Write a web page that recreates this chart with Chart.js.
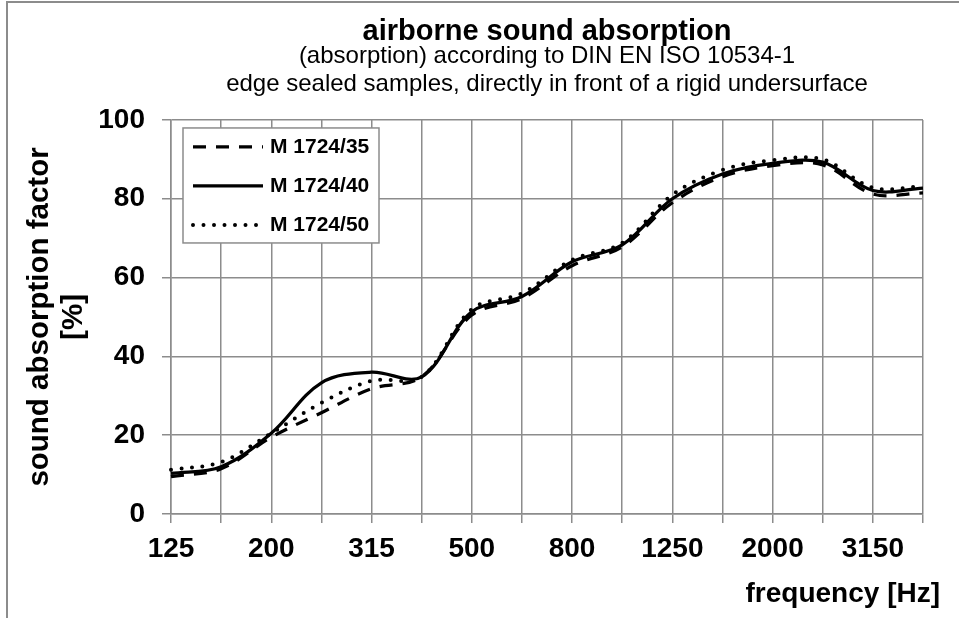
<!DOCTYPE html>
<html>
<head>
<meta charset="utf-8">
<title>airborne sound absorption</title>
<script src="https://cdn.jsdelivr.net/npm/chart.js@4/dist/chart.umd.min.js"></script>
<style>
  body { margin: 0; background: #fff; }
  canvas { display: block; }
</style>
</head>
<body>
<canvas id="absorptionChart" width="959" height="618"></canvas>
<script>
// third-octave band centre frequencies [Hz]
const frequencies = ['125', '160', '200', '250', '315', '400', '500', '630', '800', '1000', '1250', '1600', '2000', '2500', '3150', '4000'];
// sound absorption factor [%]
const m1724_35 = [9.5, 11.5, 19.5, 25.7, 31.8, 34.8, 50.5, 54.7, 63.0, 67.8, 79.0, 85.6, 88.4, 88.6, 81.2, 81.5];
const m1724_40 = [10.3, 12.0, 20.5, 33.3, 36.0, 34.8, 51.3, 55.2, 64.0, 68.3, 80.0, 86.3, 89.0, 89.3, 82.1, 82.7];
const m1724_50 = [11.2, 13.2, 20.5, 28.2, 33.8, 34.8, 52.0, 56.0, 64.5, 68.8, 81.0, 87.3, 89.8, 90.0, 82.8, 83.2];
const seriesNames = ['M 1724/35', 'M 1724/40', 'M 1724/50'];

const FONT = "'Liberation Sans', Arial, sans-serif";
const GRID = '#8c8c8c';

Chart.defaults.font.family = FONT;
Chart.defaults.color = '#000';

// frame of the original export, only left and top edges are in the picture
const framePlugin = {
    id: 'frame',
    beforeDraw(chart) {
        const ctx = chart.ctx;
        ctx.save();
        ctx.strokeStyle = GRID;
        ctx.lineWidth = 2;
        ctx.beginPath();
        ctx.moveTo(7, chart.height);
        ctx.lineTo(7, 2);
        ctx.lineTo(chart.width, 2);
        ctx.stroke();
        ctx.restore();
    }
};

// boxed legend inside the plot, with line samples
const legendBoxPlugin = {
    id: 'legendBox',
    afterDraw(chart) {
        const ctx = chart.ctx, area = chart.chartArea;
        const x = area.left + 12, y = area.top + 8, w = 196, h = 115;
        ctx.save();
        ctx.fillStyle = '#fff';
        ctx.fillRect(x, y, w, h);
        ctx.strokeStyle = GRID;
        ctx.lineWidth = 1.5;
        ctx.strokeRect(x, y, w, h);
        chart.data.datasets.forEach((ds, i) => {
            const ly = y + 19 + i * 39;
            ctx.beginPath();
            ctx.setLineDash(ds.borderDash || []);
            ctx.lineCap = ds.borderCapStyle || 'butt';
            ctx.lineWidth = ds.borderWidth;
            ctx.strokeStyle = ds.borderColor;
            ctx.moveTo(x + 10, ly);
            ctx.lineTo(x + 80, ly);
            ctx.stroke();
            ctx.setLineDash([]);
            ctx.fillStyle = '#000';
            ctx.font = 'bold 21px ' + FONT;
            ctx.textBaseline = 'middle';
            ctx.textAlign = 'left';
            ctx.fillText(ds.label, x + 87, ly);
        });
        // x axis title sits right of the plot edge
        ctx.font = 'bold 28px ' + FONT;
        ctx.textAlign = 'right';
        ctx.textBaseline = 'alphabetic';
        ctx.fillText('frequency [Hz]', area.right + 17, 602);
        ctx.restore();
    }
};

const ctx = document.getElementById('absorptionChart').getContext('2d');
new Chart(ctx, {
    type: 'line',
    data: {
        labels: frequencies,
        datasets: [{
            label: seriesNames[0],
            data: m1724_35,
            borderColor: '#000',
            borderWidth: 3.25,
            borderDash: [13, 10]
        }, {
            label: seriesNames[1],
            data: m1724_40,
            borderColor: '#000',
            borderWidth: 3.25
        }, {
            label: seriesNames[2],
            data: m1724_50,
            borderColor: '#000',
            borderWidth: 4,
            borderDash: [0, 10.5],
            borderCapStyle: 'round'
        }]
    },
    options: {
        responsive: false,
        animation: false,
        elements: {
            point: { radius: 0 },
            line: { tension: 0.35, fill: false }
        },
        layout: { padding: { left: 8, right: 36, top: 0, bottom: 0 } },
        plugins: {
            legend: { display: false },
            tooltip: { enabled: false },
            title: {
                display: true,
                fullSize: false,
                text: 'airborne sound absorption',
                font: { size: 29, weight: 'bold', lineHeight: 0.7 },
                padding: { top: 22, bottom: 0 }
            },
            subtitle: {
                display: true,
                fullSize: false,
                text: ['(absorption) according to DIN EN ISO 10534-1', 'edge sealed samples, directly in front of a rigid undersurface'],
                font: { size: 24, weight: 'normal', lineHeight: 1.17 },
                padding: { top: 0, bottom: 21.5 }
            }
        },
        scales: {
            x: {
                grid: { color: GRID, lineWidth: 1.5, tickLength: 9 },
                border: { color: GRID, width: 1.5 },
                ticks: {
                    autoSkip: false,
                    maxRotation: 0,
                    padding: 9,
                    font: { size: 28, weight: 'bold' },
                    callback: (v, i) => i % 2 === 0 ? frequencies[i] : ''
                },
                afterFit: s => { s.height = 104; }
            },
            y: {
                min: 0,
                max: 100,
                grid: { color: GRID, lineWidth: 1.5, tickLength: 9 },
                border: { color: GRID, width: 1.5 },
                ticks: { stepSize: 20, padding: 17, font: { size: 28, weight: 'bold' } },
                title: {
                    display: true,
                    text: ['sound absorption factor', '[%]'],
                    font: { size: 29.5, weight: 'bold', lineHeight: 1.14 },
                    padding: { top: 15, bottom: 0 }
                },
                afterFit: s => { s.width = 163; }
            }
        }
    },
    plugins: [framePlugin, legendBoxPlugin]
});
</script>
</body>
</html>
